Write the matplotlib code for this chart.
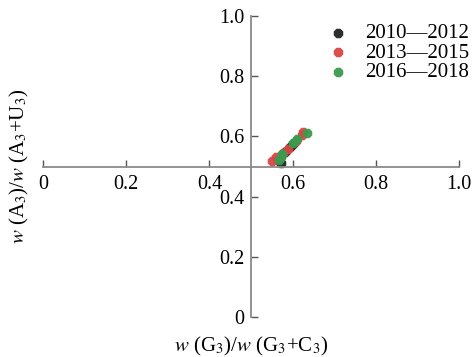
import matplotlib.pyplot as plt

plt.rcParams['font.family'] = ['Liberation Serif', 'DejaVu Serif']
plt.rcParams['mathtext.fontset'] = 'stix'

# data
x_1012 = [0.566, 0.571, 0.582, 0.594, 0.600]
y_1012 = [0.520, 0.513, 0.548, 0.566, 0.575]
x_1315 = [0.550, 0.560, 0.578, 0.590, 0.608, 0.622, 0.626]
y_1315 = [0.519, 0.533, 0.544, 0.558, 0.585, 0.605, 0.616]
x_1618 = [0.568, 0.572, 0.575, 0.602, 0.610, 0.634]
y_1618 = [0.522, 0.530, 0.540, 0.577, 0.590, 0.610]
labels = ['2010—2012', '2013—2015', '2016—2018']
colors = ['#222222', '#d94545', '#3b9b4e']
ticks = [0, 0.2, 0.4, 0.6, 0.8, 1.0]
tick_labels = ['0', '0.2', '0.4', '0.6', '0.8', '1.0']

fig = plt.figure(figsize=(4.72, 3.57), dpi=100)
ax = fig.add_axes([43 / 472, 40 / 357, 416 / 472, 301 / 357])

for xs, ys, lab, c in zip([x_1012, x_1315, x_1618], [y_1012, y_1315, y_1618], labels, colors):
    ax.scatter(xs, ys, s=55, marker='8', color=c, label=lab, linewidths=0, alpha=0.95)

ax.set_xlim(0, 1)
ax.set_ylim(0, 1)
ax.spines['left'].set_position(('data', 0.5))
ax.spines['bottom'].set_position(('data', 0.5))
ax.spines['right'].set_visible(False)
ax.spines['top'].set_visible(False)
for s in ['left', 'bottom']:
    ax.spines[s].set_color('#8a8a8a')
    ax.spines[s].set_linewidth(1.3)

ax.set_xticks(ticks)
ax.set_xticklabels(tick_labels)
ax.set_yticks(ticks)
ax.set_yticklabels(tick_labels)
ax.tick_params(direction='in', length=5, width=1, color='#555555', labelsize=14.5)
ax.tick_params(axis='x', pad=6)
ax.tick_params(axis='y', pad=5)

ax.set_xlabel(r'$w$ (G$_3$)/$w$ (G$_3$+C$_3$)', fontsize=15)
ax.xaxis.set_label_coords(0.5, -0.06)
ax.set_ylabel(r'$w$ (A$_3$)/$w$ (A$_3$+U$_3$)', fontsize=15)
ax.yaxis.set_label_coords(-0.028, 0.5)

ax.legend(loc='upper right', bbox_to_anchor=(1.025, 0.975), bbox_transform=fig.transFigure,
          frameon=False, fontsize=15, handletextpad=0.3, labelspacing=0.0,
          borderaxespad=0.3, markerscale=1.0)

fig.savefig('out.png', dpi=100)
